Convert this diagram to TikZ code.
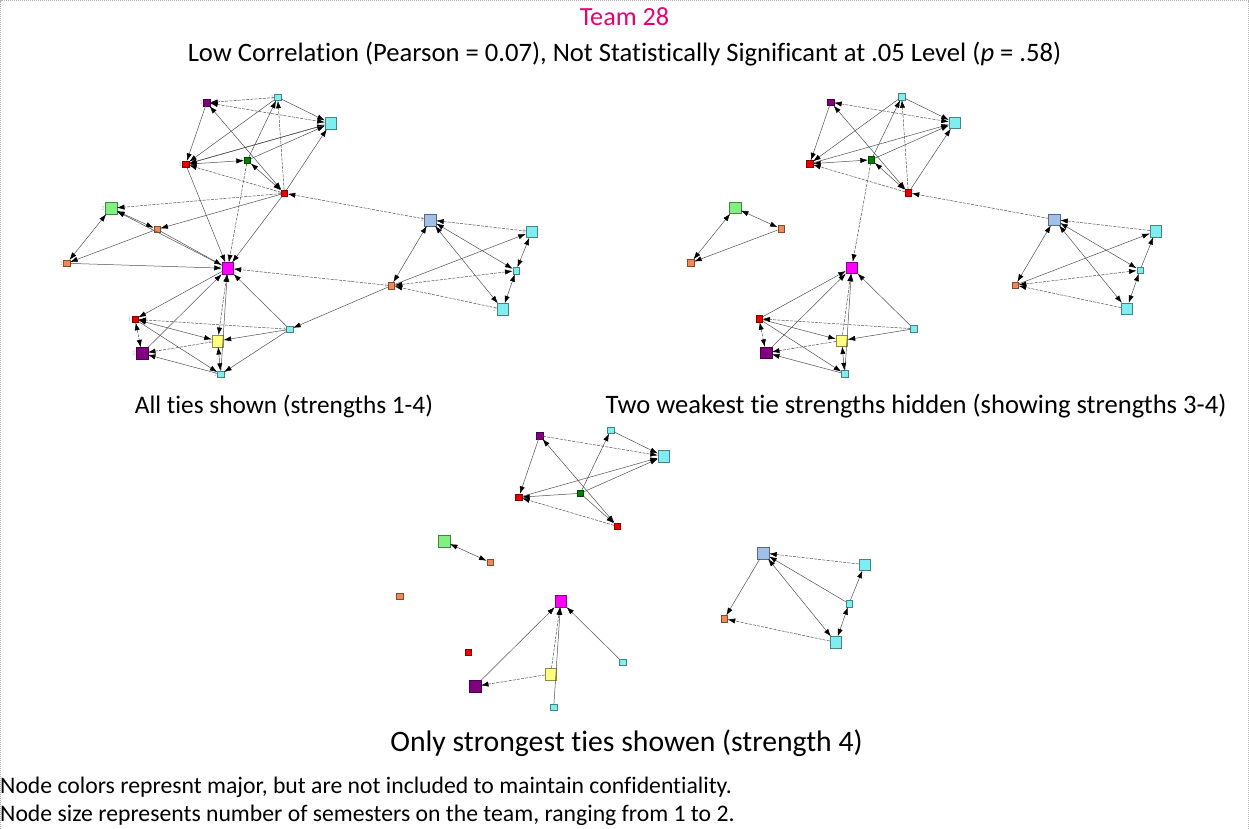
\documentclass[tikz,border=0pt]{standalone}
\usepackage{fontspec}
\setmainfont{Carlito}[Ligatures=NoCommon]
\usetikzlibrary{arrows.meta}
\definecolor{cpurple}{RGB}{128,0,128}
\definecolor{ccyan}{RGB}{128,238,240}
\definecolor{cred}{RGB}{235,0,0}
\definecolor{cgreen}{RGB}{0,128,0}
\definecolor{clgreen}{RGB}{128,240,128}
\definecolor{corange}{RGB}{240,136,88}
\definecolor{cmagenta}{RGB}{255,0,255}
\definecolor{cyellow}{RGB}{255,255,128}
\definecolor{clblue}{RGB}{160,192,232}
\definecolor{titlepink}{RGB}{232,0,110}
\definecolor{edgegray}{RGB}{80,80,80}
\tikzset{
  sn/.style={draw=#1!55!black, fill=#1, minimum size=6.5pt, inner sep=0pt, line width=0.4pt},
  bn/.style={draw=#1!55!black, fill=#1, minimum size=11.5pt, inner sep=0pt, line width=0.4pt},
  lbl/.style={font=\fontsize{6}{6}\selectfont, text=gray!55, inner sep=0.5pt},
  e/.style={draw=edgegray, line width=0.5pt, -{Latex[length=7.5pt,width=5.2pt,color=black]}},
  ee/.style={draw=edgegray, line width=0.5pt, {Latex[length=7.5pt,width=5.2pt,color=black]}-{Latex[length=7.5pt,width=5.2pt,color=black]}},
  ed/.style={e, dash pattern=on 3pt off 1.2pt},
  eed/.style={ee, dash pattern=on 3pt off 1.2pt},
  txt/.style={anchor=base, inner sep=0pt},
}
\newcommand{\teamnodes}[1]{%
  \node[sn=cpurple, nl=1]  (A#1) at (206.7,102.7) {};
  \node[sn=ccyan, nl=1]    (B#1) at (277.7,97.3) {};
  \node[bn=ccyan, nl=2]    (C#1) at (330.7,123.3) {};
  \node[sn=cred, nl=1]     (D#1) at (185.7,164.3) {};
  \node[sn=cgreen, nl=1]   (E#1) at (247.3,160.3) {};
  \node[sn=cred, nl=1]     (F#1) at (284.3,193.3) {};
  \node[bn=clgreen, nl=2]  (G#1) at (111,208.3) {};
  \node[sn=corange, nl=1]  (H#1) at (157,229.3) {};
  \node[sn=corange, nl=1]  (I#1) at (66.7,263.3) {};
  \node[bn=cmagenta, nl=2] (J#1) at (227.7,268.3) {};
  \node[sn=cred, nl=1]     (K#1) at (135,319.3) {};
  \node[bn=cpurple, nl=2]  (L#1) at (142,353.3) {};
  \node[bn=cyellow, nl=2]  (M#1) at (217.7,341) {};
  \node[sn=ccyan, nl=1]    (N#1) at (220.7,374.3) {};
  \node[sn=ccyan, nl=1]    (O#1) at (289.7,329.3) {};
  \node[bn=clblue, nl=2]   (P#1) at (430.3,220) {};
  \node[bn=ccyan, nl=2]    (Q#1) at (531.7,231.7) {};
  \node[sn=ccyan, nl=1]    (R#1) at (516,270.7) {};
  \node[sn=corange, nl=1]  (S#1) at (391.3,285.7) {};
  \node[bn=ccyan, nl=2]    (T#1) at (502.7,309.3) {};
}
\begin{document}
\begin{tikzpicture}[x=1pt,y=-1pt]
\useasboundingbox (0,0) rectangle (1249,829);
\draw[gray!60, dash pattern=on 1pt off 1pt, line width=0.7pt] (0.6,829) -- (0.6,0.6) -- (1248.4,0.6) -- (1248.4,829);

% titles
\node[txt, font=\fontsize{26.2}{31}\selectfont, text=titlepink] (title) at (624.5,26) {Team 28};
\node[txt, font=\fontsize{26.6}{31}\selectfont] (subtitle) at (624.5,62) {Low Correlation (Pearson = 0.07), Not Statistically Significant at .05 Level (\textit{p} = .58)};

% graph 1: all ties
\begin{scope}
  \tikzset{nl/.style={label={[lbl]left:#1}}}
  \teamnodes{1}
  \foreach \a/\b/\s in {A/D/e, A/F/ee, E/B/e, D/E/ee, F/D/ed, A/C/eed, B/C/e, D/C/e, E/C/e, F/E/ee, F/C/e, B/D/e, F/B/ed, E/J/ed, P/F/ed, G/H/ee, H/I/e, G/I/ee, M/J/eed, N/J/e, L/J/e, O/J/e, K/L/eed, K/M/ee, K/N/e, O/K/ed, O/M/e, M/L/ed, N/L/e, M/N/ee, P/S/ee, Q/P/ed, R/P/ee, P/T/ee, R/Q/ee, R/T/ee, T/S/ed, S/Q/e, R/S/eed, B/A/ed, C/D/e, F/J/e, D/J/e, F/G/ed, F/H/e, J/G/e, H/J/e, I/J/e, J/K/e, S/J/ed, S/O/e, O/N/e}
    \draw[\s] (\a1) -- (\b1);
\end{scope}

% graph 2: strengths 3-4
\begin{scope}[shift={(624,-0.5)}]
  \tikzset{nl/.style={}}
  \teamnodes{2}
  \foreach \a/\b/\s in {A/D/e, A/F/ee, E/B/e, D/E/ee, F/D/ed, A/C/eed, B/C/e, D/C/e, E/C/e, F/E/ee, F/C/e, B/D/e, F/B/ed, E/J/ed, P/F/ed, G/H/ee, H/I/e, G/I/ee, M/J/ed, N/J/e, L/J/e, O/J/e, K/J/e, K/L/eed, K/M/e, K/N/e, O/K/ed, O/M/e, M/L/ed, N/L/e, M/N/ee, P/S/ee, Q/P/ed, R/P/ee, P/T/ee, R/Q/e, R/T/ee, T/S/ed, S/Q/e, R/S/eed}
    \draw[\s] (\a2) -- (\b2);
\end{scope}

% graph 3: strength 4
\begin{scope}[shift={(333,333)}]
  \tikzset{nl/.style={}}
  \teamnodes{3}
  \foreach \a/\b/\s in {A/D/e, A/F/ee, E/B/e, E/D/e, F/D/ed, A/C/ed, B/C/e, D/C/e, E/C/e, E/F/e, G/H/ee, M/J/ed, N/J/e, L/J/e, O/J/e, M/L/ed, P/S/e, Q/P/ed, R/P/e, P/T/ee, R/Q/e, R/T/ee, T/S/ed}
    \draw[\s] (\a3) -- (\b3);
\end{scope}

% captions
\node[txt, font=\fontsize{25.3}{30}\selectfont] (cap1) at (284,413) {All ties shown (strengths 1-4)};
\node[txt, font=\fontsize{26.6}{31}\selectfont] (cap2) at (916,413) {Two weakest tie strengths hidden (showing strengths 3-4)};
\node[txt, font=\fontsize{29.7}{35}\selectfont] (cap3) at (626.5,751) {Only strongest ties showen (strength 4)};
\node[txt, anchor=base west, font=\fontsize{23.7}{28}\selectfont] (note1) at (0,793) {Node colors represnt major, but are not included to maintain confidentiality.};
\node[txt, anchor=base west, font=\fontsize{23.7}{28}\selectfont] (note2) at (0,821) {Node size represents number of semesters on the team, ranging from 1 to 2.};
\end{tikzpicture}
\end{document}
